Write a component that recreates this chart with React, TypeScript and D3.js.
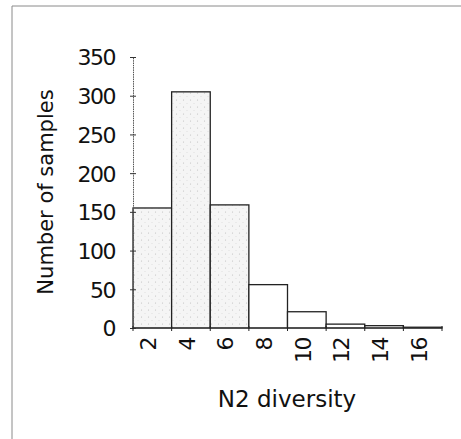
import { useEffect, useRef } from 'react'
import * as d3 from 'd3'

// N2 diversity histogram (bins of width 2)
const binCenters = [2, 4, 6, 8, 10, 12, 14, 16]
const counts = [155, 305, 159, 56, 21, 5, 3, 1]
const yTicks = [0, 50, 100, 150, 200, 250, 300, 350]
const xLabel = 'N2 diversity'
const yLabel = 'Number of samples'

const width = 461
const height = 439
const margin = { top: 57, right: 19, bottom: 111, left: 133 }

const App = () => {
  const ref = useRef<SVGSVGElement>(null)

  useEffect(() => {
    const svg = d3.select(ref.current)
    svg.selectAll('*').remove()

    const font = "'DejaVu Sans', sans-serif"

    const x = d3.scaleLinear()
      .domain([binCenters[0] - 1, binCenters[binCenters.length - 1] + 1])
      .range([margin.left, width - margin.right])
    const y = d3.scaleLinear()
      .domain([0, 350])
      .range([height - margin.bottom, margin.top])

    // stipple pattern for the shaded bars
    const defs = svg.append('defs')
    const pat = defs.append('pattern')
      .attr('id', 'stipple')
      .attr('width', 7).attr('height', 7)
      .attr('patternUnits', 'userSpaceOnUse')
    pat.append('rect').attr('width', 7).attr('height', 7).attr('fill', '#f5f5f5')
    pat.append('circle').attr('cx', 1.5).attr('cy', 2).attr('r', 0.55).attr('fill', '#bdbdbd')
    pat.append('circle').attr('cx', 5).attr('cy', 5.5).attr('r', 0.45).attr('fill', '#c8c8c8')

    // frame
    svg.append('path')
      .attr('d', `M12,${height} L12,6 L${width},6`)
      .attr('fill', 'none')
      .attr('stroke', '#8a8a8a')
      .attr('stroke-width', 1)

    // bars
    svg.append('g')
      .selectAll('rect')
      .data(binCenters)
      .join('rect')
      .attr('x', d => x(d - 1))
      .attr('width', d => x(d + 1) - x(d - 1))
      .attr('y', (d, i) => y(counts[i]))
      .attr('height', (d, i) => y(0) - y(counts[i]))
      .attr('fill', (d, i) => (i < 3 ? 'url(#stipple)' : '#fff'))
      .attr('stroke', '#222')
      .attr('stroke-width', 1.3)

    // y axis
    const yAxis = svg.append('g')
      .attr('transform', `translate(${margin.left},0)`)
      .call(d3.axisLeft(y).tickValues(yTicks).tickSizeInner(3).tickSizeOuter(0).tickPadding(15))
    yAxis.select('.domain').attr('stroke', '#555').attr('stroke-dasharray', '1.5,0.8')
    yAxis.selectAll('.tick line').attr('x2', 3).attr('x1', -3).attr('stroke', '#333')
    yAxis.selectAll('text')
      .attr('font-family', font)
      .attr('font-size', 22)
      .attr('letter-spacing', -1.5)
      .attr('fill', '#111')
      .attr('dy', '0.36em')

    // x axis
    const xAxis = svg.append('g')
      .attr('transform', `translate(0,${y(0)})`)
    xAxis.append('line')
      .attr('x1', x.range()[0]).attr('x2', x.range()[1])
      .attr('stroke', '#333').attr('stroke-width', 1.2)
    xAxis.selectAll('line.edge')
      .data(binCenters.map(d => d - 1).concat([binCenters[binCenters.length - 1] + 1]))
      .join('line')
      .attr('class', 'edge')
      .attr('x1', d => x(d)).attr('x2', d => x(d))
      .attr('y1', -2).attr('y2', 3)
      .attr('stroke', '#222')
    xAxis.selectAll('text')
      .data(binCenters)
      .join('text')
      .attr('transform', d => `translate(${x(d) - 4},10) rotate(-90)`)
      .attr('text-anchor', 'end')
      .attr('dy', '0.36em')
      .attr('font-family', font)
      .attr('font-size', 22)
      .attr('letter-spacing', -1.5)
      .attr('fill', '#111')
      .text(d => d)

    // axis titles
    svg.append('text')
      .attr('x', 287).attr('y', 407)
      .attr('text-anchor', 'middle')
      .attr('font-family', font)
      .attr('font-size', 23)
      .attr('fill', '#111')
      .text(xLabel)
    svg.append('text')
      .attr('transform', `translate(53,192) rotate(-90)`)
      .attr('text-anchor', 'middle')
      .attr('font-family', font)
      .attr('font-size', 21)
      .attr('fill', '#111')
      .text(yLabel)
  }, [])

  return (
    <svg
      ref={ref}
      width={width}
      height={height}
      style={{ position: 'absolute', left: 0, top: 0, background: '#fff' }}
    />
  )
}

export default App
